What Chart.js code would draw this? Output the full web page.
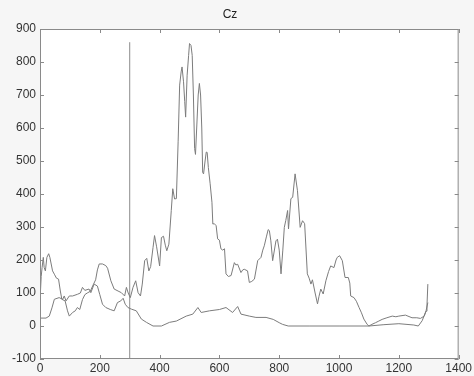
<!DOCTYPE html>
<html>
<head>
<meta charset="utf-8">
<script src="https://cdn.jsdelivr.net/npm/chart.js@4"></script>
<style>
  html, body { margin: 0; padding: 0; background: #f6f6f6; }
  #wrap { width: 474px; height: 376px; }
</style>
</head>
<body>
<div id="wrap"><canvas id="czChart" width="474" height="376"></canvas></div>
<script>
// Upper trace (big peaks)
const upperX = [0, 4, 7, 11, 14, 18, 23, 29, 33, 42, 48, 55, 62, 68, 73, 84, 92, 98, 109, 118, 125, 133, 142, 150, 158, 168, 178, 186, 192, 198, 209, 220, 226, 237, 248, 261, 272, 283, 289, 295, 302, 311, 320, 328, 336, 342, 350, 357, 364, 370, 378, 383, 390, 400, 406, 413, 419, 424, 431, 439, 444, 450, 456, 462, 467, 472, 475, 480, 484, 487, 492, 497, 500, 505, 509, 513, 517, 520, 524, 529, 533, 537, 541, 544, 547, 552, 556, 559, 563, 569, 575, 578, 583, 589, 594, 600, 605, 611, 617, 622, 630, 639, 650, 655, 661, 672, 678, 683, 694, 700, 708, 717, 728, 739, 745, 750, 757, 763, 767, 772, 778, 789, 794, 800, 806, 812, 817, 822, 828, 831, 839, 845, 853, 861, 870, 878, 885, 894, 900, 906, 911, 920, 928, 933, 939, 947, 956, 965, 972, 983, 990, 994, 1002, 1011, 1020, 1031, 1036, 1039, 1050, 1058, 1067, 1075, 1083, 1094, 1100, 1110, 1122, 1133, 1144, 1160, 1178, 1190, 1200, 1222, 1244, 1260, 1272, 1285, 1291, 1294, 1297];
const upperY = [76, 150, 177, 208, 177, 167, 208, 219, 208, 167, 157, 145, 142, 106, 81, 76, 46, 30, 41, 46, 56, 50, 80, 95, 100, 105, 125, 140, 170, 188, 188, 183, 175, 137, 112, 106, 101, 91, 117, 100, 86, 117, 137, 101, 91, 127, 198, 205, 167, 180, 238, 274, 240, 182, 268, 272, 245, 228, 248, 350, 416, 385, 386, 560, 730, 770, 785, 740, 680, 633, 760, 820, 856, 850, 820, 700, 538, 520, 600, 700, 735, 700, 600, 465, 461, 500, 527, 526, 480, 431, 375, 309, 310, 304, 264, 260, 234, 230, 234, 158, 150, 153, 192, 185, 187, 162, 170, 172, 167, 132, 135, 142, 198, 208, 230, 243, 270, 292, 289, 258, 198, 258, 263, 230, 158, 230, 299, 320, 350, 294, 386, 390, 461, 410, 299, 319, 310, 158, 145, 127, 140, 100, 67, 90, 112, 97, 137, 165, 182, 177, 200, 208, 213, 198, 147, 147, 130, 91, 86, 75, 56, 40, 21, 5, 0, 5, 10, 15, 20, 25, 30, 28, 30, 33, 25, 25, 23, 30, 45, 61, 127];

// Lower trace
const lowerX = [0, 20, 31, 40, 48, 64, 76, 81, 87, 98, 109, 125, 135, 142, 150, 164, 170, 181, 192, 200, 209, 220, 235, 248, 259, 270, 278, 285, 294, 306, 322, 339, 356, 378, 406, 433, 456, 489, 511, 528, 539, 567, 600, 622, 644, 661, 672, 700, 722, 756, 780, 800, 811, 830, 900, 1000, 1100, 1150, 1200, 1250, 1265, 1278, 1291, 1297];
const lowerY = [24, 24, 30, 55, 81, 86, 81, 91, 76, 91, 91, 96, 100, 117, 108, 112, 101, 127, 121, 95, 66, 56, 50, 46, 71, 76, 84, 66, 56, 51, 46, 21, 11, 0, 0, 11, 15, 30, 36, 56, 41, 46, 50, 56, 41, 59, 36, 30, 26, 26, 20, 10, 5, 0, 0, 0, 0, 4, 7, 3, 0, 16, 46, 71];

// Vertical marker
const markerX = [300, 300];
const markerY = [-100, 860];

const xTicks = [0, 200, 400, 600, 800, 1000, 1200, 1400];
const yTicks = [-100, 0, 100, 200, 300, 400, 500, 600, 700, 800, 900];

function toPoints(xs, ys) {
    return xs.map((x, i) => ({ x: x, y: ys[i] }));
}

// white plot area, box and inward ticks like the original figure
const boxPlugin = {
    id: 'box',
    beforeDatasetsDraw(chart) {
        const { ctx, chartArea: a } = chart;
        ctx.save();
        ctx.fillStyle = '#ffffff';
        ctx.fillRect(a.left, a.top, a.right - a.left, a.bottom - a.top);
        ctx.restore();
    },
    afterDatasetsDraw(chart) {
        const { ctx, chartArea: a, scales } = chart;
        ctx.save();
        ctx.strokeStyle = '#8a8a8a';
        ctx.lineWidth = 1;
        ctx.strokeRect(a.left + 0.5, a.top + 0.5, a.right - a.left - 1, a.bottom - a.top - 1);
        ctx.beginPath();
        xTicks.forEach(v => {
            const px = Math.round(scales.x.getPixelForValue(v)) + 0.5;
            ctx.moveTo(px, a.bottom); ctx.lineTo(px, a.bottom - 4);
            ctx.moveTo(px, a.top); ctx.lineTo(px, a.top + 4);
        });
        yTicks.forEach(v => {
            const py = Math.round(scales.y.getPixelForValue(v)) + 0.5;
            ctx.moveTo(a.left, py); ctx.lineTo(a.left + 4, py);
            ctx.moveTo(a.right, py); ctx.lineTo(a.right - 4, py);
        });
        ctx.stroke();
        ctx.restore();
    }
};

const lineStyle = {
    borderColor: '#7c7c7c',
    borderWidth: 1,
    pointRadius: 0,
    tension: 0,
    fill: false
};

new Chart(document.getElementById('czChart').getContext('2d'), {
    type: 'line',
    data: {
        datasets: [
            Object.assign({ data: toPoints(upperX, upperY) }, lineStyle),
            Object.assign({ data: toPoints(lowerX, lowerY) }, lineStyle),
            Object.assign({ data: toPoints(markerX, markerY) }, lineStyle, { borderColor: '#8c8c8c' })
        ]
    },
    options: {
        responsive: false,
        animation: false,
        layout: { padding: { left: 0, right: 14, top: 0, bottom: 0 } },
        plugins: {
            legend: { display: false },
            tooltip: { enabled: false },
            title: {
                display: true,
                text: 'Cz',
                color: '#222',
                font: { family: 'Liberation Sans, Arial', size: 12, weight: 'normal' },
                padding: { top: 7, bottom: 7.6 }
            }
        },
        scales: {
            x: {
                type: 'linear',
                min: 0,
                max: 1400,
                afterBuildTicks: s => { s.ticks = xTicks.map(v => ({ value: v })); },
                afterFit: s => { s.height = 17; },
                ticks: {
                    color: '#333',
                    font: { family: 'Liberation Sans, Arial', size: 12 },
                    padding: 2,
                    maxRotation: 0,
                    callback: v => String(v)
                },
                grid: { display: false, drawTicks: false },
                border: { display: false }
            },
            y: {
                type: 'linear',
                min: -100,
                max: 900,
                afterBuildTicks: s => { s.ticks = yTicks.map(v => ({ value: v })); },
                afterFit: s => { s.width = 40; },
                ticks: {
                    color: '#333',
                    font: { family: 'Liberation Sans, Arial', size: 12 },
                    padding: 4,
                    callback: v => String(v)
                },
                grid: { display: false, drawTicks: false },
                border: { display: false }
            }
        }
    },
    plugins: [boxPlugin]
});
</script>
</body>
</html>
